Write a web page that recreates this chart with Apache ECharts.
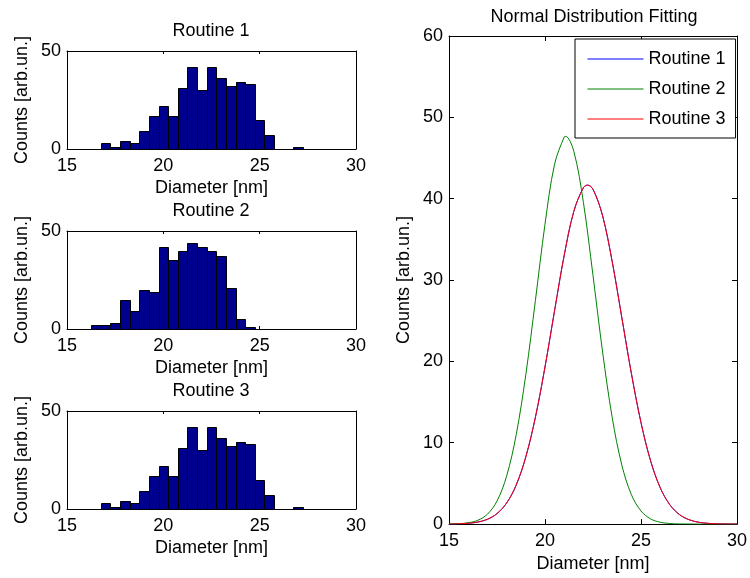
<!DOCTYPE html>
<html>
<head>
<meta charset="utf-8">
<script src="https://cdn.jsdelivr.net/npm/echarts@6/dist/echarts.min.js"></script>
<style>
  html, body { margin: 0; padding: 0; background: #fff; }
  #chart { width: 750px; height: 578px; }
</style>
</head>
<body>
<div id="chart"></div>
<script>
// Histogram bin centres (nm), shared by the three routines
const binCenters = [16.5, 17.0, 17.5, 18.0, 18.5, 19.0, 19.5, 20.0, 20.5, 21.0, 21.5,
                    22.0, 22.5, 23.0, 23.5, 24.0, 24.5, 25.0, 25.5, 26.0, 26.5, 27.0];
const binWidth = 0.5;

// Particle counts per bin
const routine1Counts = [0, 3, 1, 4, 3, 9, 17, 22, 17, 31, 42, 30, 42, 36, 32, 34, 33, 15, 7, 0, 0, 1];
const routine2Counts = [2, 2, 3, 15, 9, 20, 19, 42, 35, 40, 44, 42, 40, 37, 21, 5, 1, 0, 0, 0, 0, 0];
const routine3Counts = [0, 3, 1, 4, 3, 9, 17, 22, 17, 31, 42, 30, 42, 36, 32, 34, 33, 15, 7, 0, 0, 1];

// Fitted normal curves, sampled along the diameter axis
const fitDiameter1 = [15, 15.5, 16, 16.5, 17, 17.5, 18, 18.5, 19, 19.5, 20, 20.5, 21, 21.5, 22, 22.22,
                      22.5, 23, 23.5, 24, 24.5, 25, 25.5, 26, 26.5, 27, 27.5, 28, 28.5, 29, 29.5, 30];
const fitCounts1 = [0.01, 0.04, 0.10, 0.25, 0.59, 1.29, 2.59, 4.80, 8.26, 13.13, 19.31, 26.26, 33.03, 38.43, 41.36, 41.67,
                    41.16, 37.90, 32.27, 25.41, 18.51, 12.48, 7.78, 4.48, 2.39, 1.18, 0.54, 0.23, 0.09, 0.03, 0.01, 0.00];
const fitDiameter2 = [15, 15.5, 16, 16.5, 17, 17.5, 18, 18.5, 19, 19.5, 20, 20.5, 21, 21.08, 21.5, 22,
                      22.5, 23, 23.5, 24, 24.5, 25, 25.5, 26, 26.5, 27, 27.5, 28, 28.5, 29, 29.5, 30];
const fitCounts2 = [0.01, 0.05, 0.16, 0.47, 1.21, 2.83, 5.89, 10.99, 18.36, 27.49, 36.86, 44.25, 47.59, 47.66, 45.84, 39.55,
                    30.56, 21.15, 13.11, 7.27, 3.62, 1.61, 0.64, 0.23, 0.07, 0.02, 0.01, 0, 0, 0, 0, 0];
const fitDiameter3 = fitDiameter1;
const fitCounts3 = [0.01, 0.04, 0.10, 0.25, 0.59, 1.29, 2.59, 4.80, 8.26, 13.13, 19.31, 26.26, 33.03, 38.43, 41.36, 41.67,
                    41.16, 37.90, 32.27, 25.41, 18.51, 12.48, 7.78, 4.48, 2.39, 1.18, 0.54, 0.23, 0.09, 0.03, 0.01, 0.00];

const histTitles = ['Routine 1', 'Routine 2', 'Routine 3'];
const seriesNames = ['Routine 1', 'Routine 2', 'Routine 3'];
const fitTitle = 'Normal Distribution Fitting';
const xName = 'Diameter [nm]';
const yName = 'Counts [arb.un.]';

const FONT = '"Liberation Sans", Arial, Helvetica, sans-serif';
const FS = 18;
const INK = '#000';

const grids = [
  { left: 67, top: 51, width: 289, height: 98 },
  { left: 67, top: 231, width: 289, height: 98 },
  { left: 67, top: 411, width: 289, height: 98 },
  { left: 449, top: 36, width: 290, height: 491 }
];

const xAxes = [];
const yAxes = [];

// Build a boxed pair of axes (bottom/top, left/right) for one grid
function boxAxes(gi, xr, yr, tickLen) {
  const line = { show: true, onZero: false, lineStyle: { color: INK, width: 1 } };
  const tick = { show: true, inside: true, length: tickLen, lineStyle: { color: INK, width: 1 } };
  const label = { color: INK, fontSize: FS, fontFamily: FONT, showMinLabel: true, showMaxLabel: true };
  const nameStyle = { color: INK, fontSize: FS, fontFamily: FONT };
  xAxes.push({
    gridIndex: gi, type: 'value', position: 'bottom', min: xr[0], max: xr[1], interval: xr[2],
    axisLine: line, axisTick: tick, splitLine: { show: false },
    axisLabel: Object.assign({ margin: 8 }, label),
    name: xName, nameLocation: 'middle', nameGap: 30, nameTextStyle: nameStyle
  });
  xAxes.push({
    gridIndex: gi, type: 'value', position: 'top', min: xr[0], max: xr[1], interval: xr[2],
    axisLine: line, axisTick: tick, splitLine: { show: false }, axisLabel: { show: false }
  });
  yAxes.push({
    gridIndex: gi, type: 'value', position: 'left', min: yr[0], max: yr[1], interval: yr[2],
    axisLine: line, axisTick: tick, splitLine: { show: false },
    axisLabel: Object.assign({ margin: 6, padding: [4, 0, 0, 0] }, label),
    name: yName, nameLocation: 'middle', nameGap: 36, nameTextStyle: nameStyle
  });
  yAxes.push({
    gridIndex: gi, type: 'value', position: 'right', min: yr[0], max: yr[1], interval: yr[2],
    axisLine: line, axisTick: tick, splitLine: { show: false }, axisLabel: { show: false }
  });
}

boxAxes(0, [15, 30, 5], [0, 50, 50], 3);
boxAxes(1, [15, 30, 5], [0, 50, 50], 3);
boxAxes(2, [15, 30, 5], [0, 50, 50], 3);
boxAxes(3, [15, 30, 5], [0, 60, 10], 5);

// Histogram bars drawn as rectangles spanning each bin
function histSeries(gi, counts) {
  return {
    type: 'custom',
    xAxisIndex: gi * 2,
    yAxisIndex: gi * 2,
    data: binCenters.map((c, k) => [c, counts[k]]),
    z: 3,
    renderItem: function (params, api) {
      const c = api.value(0);
      const v = api.value(1);
      if (!v) return null;
      const tl = api.coord([c - binWidth / 2, v]);
      const br = api.coord([c + binWidth / 2, 0]);
      const x0 = Math.round(tl[0]) + 0.5, x1 = Math.round(br[0]) + 0.5;
      const y0 = Math.round(tl[1]) + 0.5, y1 = Math.round(br[1]) + 0.5;
      return {
        type: 'rect',
        shape: { x: x0, y: y0, width: x1 - x0, height: y1 - y0 },
        style: { fill: '#00008f', stroke: '#000', lineWidth: 1 }
      };
    }
  };
}

function fitSeries(name, xs, ys, color) {
  return {
    name: name,
    type: 'line',
    xAxisIndex: 6,
    yAxisIndex: 6,
    data: xs.map((x, k) => [x, ys[k]]),
    smooth: 0.35,
    symbol: 'none',
    lineStyle: { color: color, width: 1 },
    itemStyle: { color: color },
    z: 3
  };
}

const titleStyle = { color: INK, fontSize: FS, fontFamily: FONT, fontWeight: 'normal' };

const option = {
  backgroundColor: '#fff',
  animation: false,
  title: [
    { text: histTitles[0], left: 211, top: 22, textAlign: 'center', padding: 0, textStyle: titleStyle },
    { text: histTitles[1], left: 211, top: 202, textAlign: 'center', padding: 0, textStyle: titleStyle },
    { text: histTitles[2], left: 211, top: 382, textAlign: 'center', padding: 0, textStyle: titleStyle },
    { text: fitTitle, left: 594, top: 8, textAlign: 'center', padding: 0, textStyle: titleStyle }
  ],
  legend: {
    data: seriesNames,
    orient: 'vertical',
    left: 575,
    top: 39,
    itemWidth: 56,
    itemHeight: 14,
    itemGap: 12,
    padding: [11, 10, 10, 12],
    borderColor: '#000',
    borderWidth: 1,
    backgroundColor: '#fff',
    itemStyle: { opacity: 0 },
    lineStyle: { width: 1 },
    textStyle: { color: INK, fontSize: FS, fontFamily: FONT },
    z: 10
  },
  grid: grids.map(g => Object.assign({ containLabel: false }, g)),
  xAxis: xAxes,
  yAxis: yAxes,
  series: [
    histSeries(0, routine1Counts),
    histSeries(1, routine2Counts),
    histSeries(2, routine3Counts),
    fitSeries(seriesNames[0], fitDiameter1, fitCounts1, '#0000ff'),
    fitSeries(seriesNames[1], fitDiameter2, fitCounts2, '#008000'),
    fitSeries(seriesNames[2], fitDiameter3, fitCounts3, '#ff0000')
  ]
};

const chart = echarts.init(document.getElementById('chart'), null, { renderer: 'canvas' });
chart.setOption(option);
</script>
</body>
</html>
